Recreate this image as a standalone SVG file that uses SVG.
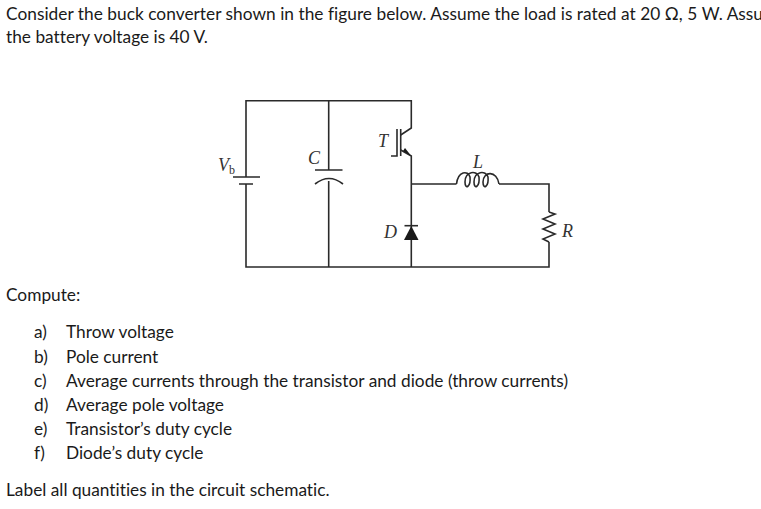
<svg xmlns="http://www.w3.org/2000/svg" width="761" height="509" viewBox="0 0 761 509">
<style>
.t{font-family:"Lato","Carlito","Liberation Sans",sans-serif;font-size:17.3px;font-variant-ligatures:none;fill:#1a1a1a}
.m{font-family:"Liberation Serif",serif;font-style:italic;font-size:18px;fill:#333}
.w{fill:none;stroke:#2a2a2a;stroke-width:1.6}
.k{fill:#1a1a1a;stroke:none}
</style>
<rect width="761" height="509" fill="#fff"/>
<g id="prose">
<text class="t" x="6" y="19.500" textLength="757" lengthAdjust="spacing">Consider the buck converter shown in the figure below. Assume the load is rated at 20 Ω, 5 W. Assu</text>
<text class="t" x="6" y="42.500">the battery voltage is 40 V.</text>
<text class="t" x="6" y="300.500">Compute:</text>
<text class="t" x="34" y="337.500">a)</text><text class="t" x="66" y="337.500">Throw voltage</text>
<text class="t" x="34" y="362.500">b)</text><text class="t" x="66" y="362.500">Pole current</text>
<text class="t" x="34" y="386.500">c)</text><text class="t" x="66" y="386.500" textLength="502" lengthAdjust="spacing">Average currents through the transistor and diode (throw currents)</text>
<text class="t" x="34" y="410.500">d)</text><text class="t" x="66" y="410.500">Average pole voltage</text>
<text class="t" x="34" y="434.500">e)</text><text class="t" x="66" y="434.500">Transistor’s duty cycle</text>
<text class="t" x="34" y="458.500">f)</text><text class="t" x="66" y="458.500">Diode’s duty cycle</text>
<text class="t" x="6" y="495.500">Label all quantities in the circuit schematic.</text>
</g>
<g id="connectors">
<path class="w" d="M246 177V100.700H411.300V128L400.700 135M400.700 150L411.300 156V267M246 184V267H549V242M328.700 100.700V170M328.700 181V267M411.300 184H456.500M499 184H549V212"/>
</g>
<g id="battery"><path class="w" d="M233 177H260M239 184H253"/><text class="m" x="218" y="171">V<tspan font-style="normal" font-size="12" dy="3">b</tspan></text></g>
<g id="capacitor"><path class="w" d="M315 170H342.500M315 184Q329 173 343 184"/><text class="m" x="308" y="164">C</text></g>
<g id="transistor"><path class="w" d="M391 156H397V129M400.700 129V156"/><path class="k" d="M411.300 156L403 151L405 148Z"/><text class="m" x="378" y="147">T</text></g>
<g id="diode"><path class="w" d="M404.500 225.700H418"/><path class="k" d="M411.300 226L404 240H418.500Z"/><text class="m" x="384" y="238">D</text></g>
<g id="inductor"><path class="w" d="M456.500 184C458 171 468 170 470 177C471 187 465 190 465 182C465 171 477 170 479 177C480 187 474 190 474 182C474 171 486 170 488 177C489 187 483 190 483 182C483 171 497 170 499 184"/><text class="m" x="473" y="168">L</text></g>
<g id="resistor"><path class="w" d="M549 212L555 214L543 219L555 224L543 229L555 234L543 239L549 242"/><text class="m" x="562" y="237">R</text></g>
</svg>
